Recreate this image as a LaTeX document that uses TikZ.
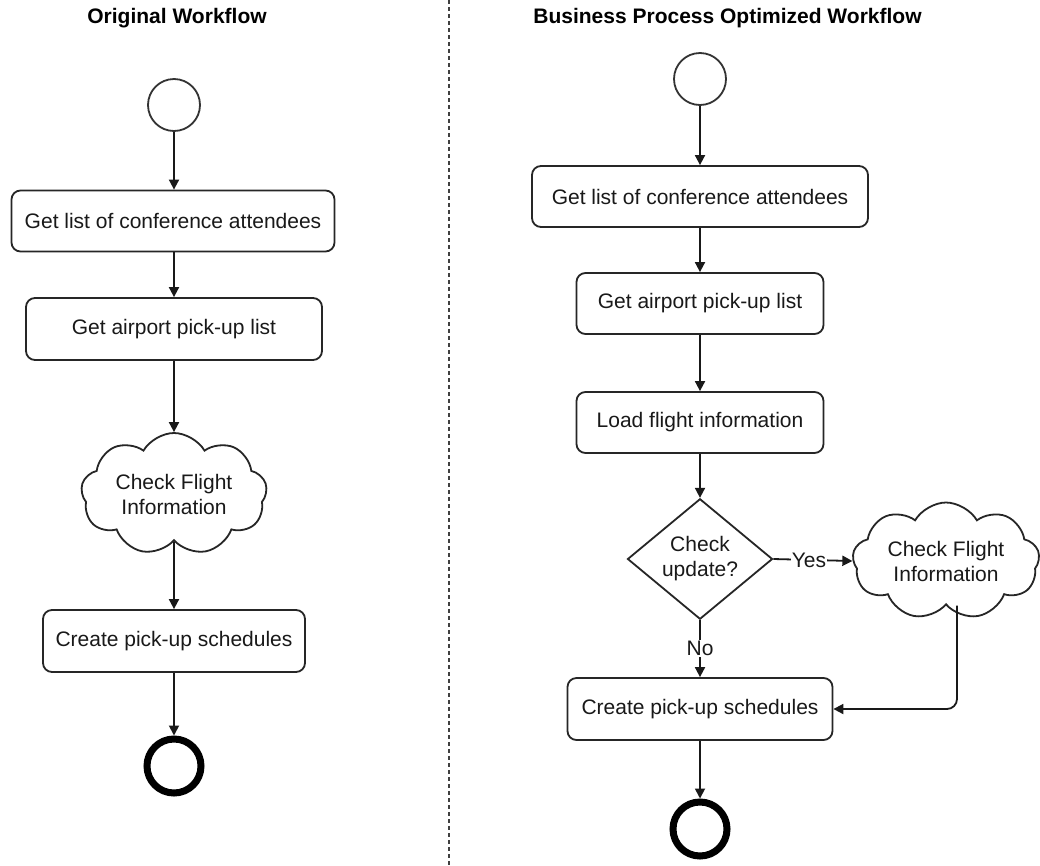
\documentclass[tikz,border=0pt]{standalone}
\usepackage{fontspec}
\setmainfont{Liberation Sans}
\usetikzlibrary{arrows.meta,shapes.geometric,shapes.symbols}
\begin{document}
\begin{tikzpicture}[x=1pt,y=-1pt,
  every node/.style={font=\fontsize{21}{25}\selectfont, text=black!90},
  box/.style={draw=black!85, line width=1.8pt, rounded corners=9pt, fill=white, align=center, inner sep=0pt},
  arr/.style={-{Triangle[width=10pt,length=10pt]}, line width=1.8pt, draw=black!90},
  startc/.style={circle, draw=black!80, line width=1.8pt, minimum size=52pt, inner sep=0pt},
  endc/.style={circle, draw=black, line width=7pt, minimum size=54pt, inner sep=0pt},
  cloudn/.style={cloud, cloud puffs=9, cloud puff arc=120, cloud ignores aspect, draw=black!85, line width=1.8pt, fill=white, align=center, inner sep=0pt},
  decision/.style={diamond, draw=black!85, line width=1.8pt, fill=white, align=center, inner sep=0pt},
  ttl/.style={font=\bfseries\fontsize{21}{25}\selectfont, text=black}
]
\useasboundingbox (0,0) rectangle (1040,865);
\fill[white] (0,0) rectangle (1040,865);

% divider
\coordinate (dtop) at (449,0);
\coordinate (dbot) at (449,865);
\draw[black!75, line width=1.6pt, dash pattern=on 4pt off 3pt] (dtop) -- (dbot);

% titles
\node[ttl] (t1) at (177,18) {Original Workflow};
\node[ttl] (t2) at (727.5,18) {Business Process Optimized Workflow};

% left workflow
\node[startc] (ls) at (174,105) {};
\node[box, minimum width=323pt, minimum height=61pt] (l1) at (173,221) {Get list of conference attendees};
\node[box, minimum width=296pt, minimum height=62pt] (l2) at (174,329) {Get airport pick-up list};
\node[cloudn, minimum width=186pt, minimum height=122pt] (lc) at (174,494) {Check Flight\\Information};
\node[box, minimum width=262pt, minimum height=62pt] (l3) at (174,641) {Create pick-up schedules};
\node[endc] (le) at (174,766) {};

\draw[arr] (ls.south) -- (ls.south |- l1.north);
\draw[arr] (l2.north |- l1.south) -- (l2.north);
\draw[arr] (l2.south) -- (lc.north);
\draw[arr] (lc.south) -- (l3.north);
\draw[arr] (l3.south) -- (le.north);

% right workflow
\node[startc] (rs) at (700,79) {};
\node[box, minimum width=336pt, minimum height=61pt] (r1) at (700,196.5) {Get list of conference attendees};
\node[box, minimum width=247pt, minimum height=61pt] (r2) at (700,303.5) {Get airport pick-up list};
\node[box, minimum width=247pt, minimum height=61pt] (r3) at (700,422.5) {Load flight information};
\node[decision, minimum width=145pt, minimum height=118pt] (rd) at (700,559) {Check\\update?};
\node[cloudn, minimum width=187pt, minimum height=117pt] (rc) at (946,561) {Check Flight\\Information};
\node[box, minimum width=265pt, minimum height=62pt] (r4) at (700,709) {Create pick-up schedules};
\node[endc] (re) at (700,829) {};

\draw[arr] (rs) -- (r1);
\draw[arr] (r1) -- (r2);
\draw[arr] (r2) -- (r3);
\draw[arr] (r3) -- (rd);
\draw[arr] (rd.east) -- node[fill=white, inner sep=1pt, pos=0.45] (yes) {Yes} (rc.west);
\draw[arr] (rd.south) -- node[fill=white, inner sep=1pt] (no) {No} (r4.north);
\draw[arr, rounded corners=10pt] ([xshift=11pt]rc.south) |- (r4.east);
\draw[arr] (r4) -- (re);
\end{tikzpicture}
\end{document}
